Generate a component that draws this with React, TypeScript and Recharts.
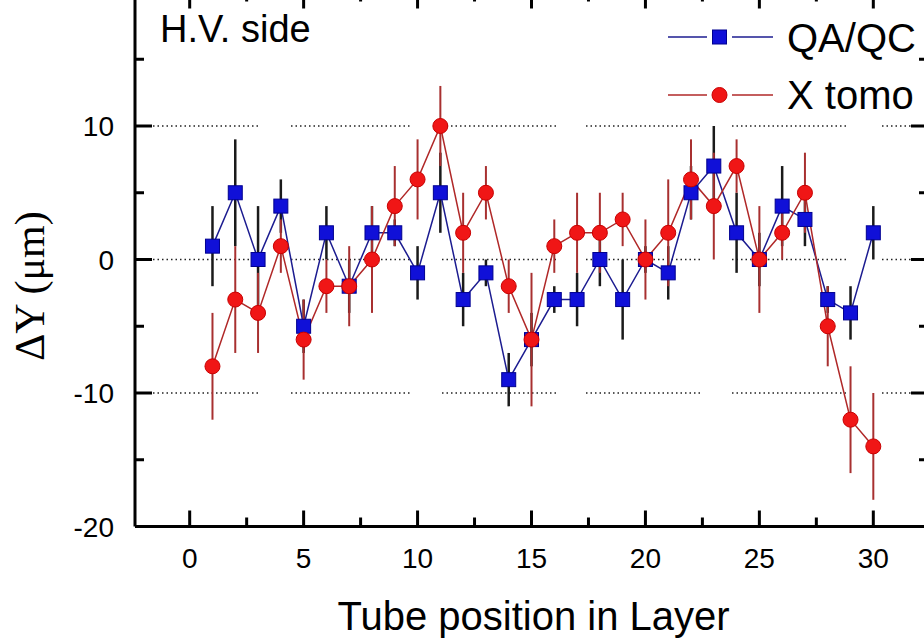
import React from 'react';
import { LineChart, Line, XAxis, YAxis, ErrorBar, ReferenceLine, Legend } from 'recharts';

// ---------- data ----------
const tubePositions = [1, 2, 3, 4, 5, 6, 7, 8, 9, 10, 11, 12, 13, 14, 15, 16, 17, 18, 19, 20, 21, 22, 23, 24, 25, 26, 27, 28, 29, 30];
const qaqcValues = [1, 5, 0, 4, -5, 2, -2, 2, 2, -1, 5, -3, -1, -9, -6, -3, -3, 0, -3, 0, -1, 5, 7, 2, 0, 4, 3, -3, -4, 2];
const qaqcErrors = [3, 4, 4, 2, 2, 2, 2, 2, 1, 2, 3, 2, 1, 2, 2, 1, 2, 2, 3, 1, 2, 2, 3, 3, 2, 3, 2, 1, 2, 2];
const xtomoValues = [-8, -3, -4, 1, -6, -2, -2, 0, 4, 6, 10, 2, 5, -2, -6, 1, 2, 2, 3, 0, 2, 6, 4, 7, 0, 2, 5, -5, -12, -14];
const xtomoErrors = [4, 4, 3, 2, 3, 2, 3, 4, 3, 3, 3, 3, 2, 2, 5, 2, 3, 3, 2, 3, 4, 3, 4, 2, 4, 2, 3, 3, 4, 4];
const seriesNames = ['QA/QC', 'X tomo'];
const xTicks = [0, 2.5, 5, 7.5, 10, 12.5, 15, 17.5, 20, 22.5, 25, 27.5, 30];
const yTicks = [-20, -15, -10, -5, 0, 5, 10, 15, 20];
const yTickLabels = ['-20', '-10', '0', '10'];
const gridValues = [-10, 0, 10];
const annotation = 'H.V. side';
const xTitle = 'Tube position in Layer';
const yTitle = '\u0394Y (\u03bcm)';

const data = tubePositions.map((p, i) => ({
  pos: p,
  qaqc: qaqcValues[i],
  qaqcErr: qaqcErrors[i],
  xtomo: xtomoValues[i],
  xtomoErr: xtomoErrors[i],
}));

// ---------- styles ----------
const SANS = '"Liberation Sans", Arial, Helvetica, sans-serif';
const SERIF = '"Liberation Serif", "Times New Roman", serif';
const BLUE_FILL = '#1010d8';
const BLUE_EDGE = '#000090';
const BLUE_LINE = '#1c1c90';
const RED_FILL = '#f01616';
const RED_EDGE = '#c80000';
const RED_LINE = '#b02828';

// dotted grid with periodic gaps (as in reference)
function buildDash(segs: number[][]) {
  const arr: number[] = [];
  segs.forEach(([s, e], i) => {
    const next = i < segs.length - 1 ? segs[i + 1][0] : e + 200;
    const n = Math.max(1, Math.floor((e - s) / 4.5));
    for (let k = 0; k < n; k++) {
      arr.push(1.5);
      arr.push(k === n - 1 ? next - (s + k * 4.5 + 1.5) : 3);
    }
  });
  return arr.map((v) => v.toFixed(2)).join(' ');
}
const GRID_DASH = buildDash([[135, 262], [291, 413], [442, 560], [586, 703], [732, 853], [882, 960]]);

const BottomTick = (props: any) => {
  const { x, y, payload } = props;
  const v = payload.value;
  const major = v % 5 === 0;
  return (
    <g>
      <line x1={x} y1={y} x2={x} y2={y - (major ? 16 : 9)} stroke="#000" strokeWidth={3} />
      {major && (
        <text x={x} y={y + 41} textAnchor="middle" fontSize={28} fontFamily={SANS} fill="#000">
          {v}
        </text>
      )}
    </g>
  );
};

const TopTick = (props: any) => {
  const { x, y, payload } = props;
  const major = payload.value % 5 === 0;
  return <line x1={x} y1={y} x2={x} y2={y + (major ? 16 : 9)} stroke="#000" strokeWidth={3} />;
};

const LeftTick = (props: any) => {
  const { x, y, payload } = props;
  const v = payload.value;
  const major = v % 10 === 0;
  const label = yTickLabels.includes(String(v));
  return (
    <g>
      <line x1={x} y1={y} x2={x + (major ? 17 : 9)} y2={y} stroke="#000" strokeWidth={3} />
      {label && (
        <text x={x - 21} y={y + 10} textAnchor="end" fontSize={28} fontFamily={SANS} fill="#000">
          {v}
        </text>
      )}
    </g>
  );
};

const RightTick = (props: any) => {
  const { x, y, payload } = props;
  const major = payload.value % 10 === 0;
  return <line x1={x} y1={y} x2={x - (major ? 17 : 9)} y2={y} stroke="#000" strokeWidth={3} />;
};

const SquareDot = (p: any) => {
  if (p.cx == null || p.cy == null) return <g key={`sq-${p.index}`} />;
  return (
    <rect key={`sq-${p.index}`} x={p.cx - 7} y={p.cy - 7} width={14} height={14} fill={BLUE_FILL} stroke={BLUE_EDGE} strokeWidth={1} />
  );
};

const CircleDot = (p: any) => {
  if (p.cx == null || p.cy == null) return <g key={`ci-${p.index}`} />;
  return <circle key={`ci-${p.index}`} cx={p.cx} cy={p.cy} r={7.5} fill={RED_FILL} stroke={RED_EDGE} strokeWidth={1} />;
};

const XTitle = (props: any) => {
  const vb = props.viewBox || { x: 135, y: 566.5, width: 793 };
  return (
    <text x={vb.x + vb.width / 2 + 2} y={vb.y + 103.5} textAnchor="middle" fontSize={40} fontFamily={SANS} fill="#000">
      {xTitle}
    </text>
  );
};

const YTitle = () => (
  <text x={44} y={326} transform="rotate(-90, 44, 326)" textAnchor="middle" fontSize={42} fontFamily={SERIF} fill="#000">
    {yTitle}
  </text>
);

const LegendContent = () => (
  <svg width={305} height={130} style={{ display: 'block' }}>
    <line x1={13} y1={37} x2={52} y2={37} stroke={BLUE_LINE} strokeWidth={1.5} />
    <line x1={77} y1={37} x2={118} y2={37} stroke={BLUE_LINE} strokeWidth={1.5} />
    <rect x={57.5} y={30} width={14} height={14} fill={BLUE_FILL} stroke={BLUE_EDGE} strokeWidth={1} />
    <text x={132} y={52} fontSize={40} fontFamily={SANS} fill="#000">{seriesNames[0]}</text>
    <line x1={13} y1={95} x2={52} y2={95} stroke={RED_LINE} strokeWidth={1.5} />
    <line x1={77} y1={95} x2={118} y2={95} stroke={RED_LINE} strokeWidth={1.5} />
    <circle cx={64.5} cy={95} r={7.5} fill={RED_FILL} stroke={RED_EDGE} strokeWidth={1} />
    <text x={132} y={109} fontSize={40} fontFamily={SANS} fill="#000">{seriesNames[1]}</text>
  </svg>
);

export default function App() {
  return (
    <div style={{ position: 'absolute', left: 0, top: 0, width: 924, height: 642, overflow: 'hidden', background: '#fff' }}>
      <div style={{ position: 'absolute', left: 0, top: -40 }}>
        <LineChart
          width={960}
          height={700}
          data={data}
          margin={{ top: 2.5, right: 2, bottom: 73.5, left: 55 }}
        >
          <XAxis
            dataKey="pos"
            type="number"
            domain={[-2.4, 32.4]}
            ticks={xTicks}
            interval={0}
            allowDataOverflow
            height={60}
            tickSize={0}
            tickMargin={0}
            tickLine={false}
            axisLine={{ stroke: '#000', strokeWidth: 3 }}
            tick={<BottomTick />}
            label={<XTitle />}
          />
          <XAxis
            xAxisId="top"
            orientation="top"
            dataKey="pos"
            type="number"
            domain={[-2.4, 32.4]}
            ticks={xTicks}
            interval={0}
            allowDataOverflow
            height={30}
            tickSize={0}
            tickMargin={0}
            tickLine={false}
            axisLine={{ stroke: '#000', strokeWidth: 3 }}
            tick={<TopTick />}
          />
          <YAxis
            type="number"
            domain={[-20, 20]}
            ticks={yTicks}
            interval={0}
            allowDataOverflow
            width={80}
            tickSize={0}
            tickMargin={0}
            tickLine={false}
            axisLine={{ stroke: '#000', strokeWidth: 3 }}
            tick={<LeftTick />}
            label={<YTitle />}
          />
          <YAxis
            yAxisId="right"
            orientation="right"
            type="number"
            domain={[-20, 20]}
            ticks={yTicks}
            interval={0}
            allowDataOverflow
            width={30}
            tickSize={0}
            tickMargin={0}
            tickLine={false}
            axisLine={{ stroke: '#000', strokeWidth: 3 }}
            tick={<RightTick />}
          />
          {gridValues.map((g) => (
            <ReferenceLine key={`grid-${g}`} y={g} stroke="#222" strokeWidth={1.5} strokeDasharray={GRID_DASH} />
          ))}
          <Line
            dataKey="qaqc"
            name={seriesNames[0]}
            type="linear"
            stroke={BLUE_LINE}
            strokeWidth={1.5}
            dot={SquareDot}
            activeDot={false}
            isAnimationActive={false}
          >
            <ErrorBar dataKey="qaqcErr" direction="y" width={0} stroke="#1a1a1a" strokeWidth={2.5} isAnimationActive={false} />
          </Line>
          <Line
            dataKey="xtomo"
            name={seriesNames[1]}
            type="linear"
            stroke={RED_LINE}
            strokeWidth={1.5}
            dot={CircleDot}
            activeDot={false}
            isAnimationActive={false}
          >
            <ErrorBar dataKey="xtomoErr" direction="y" width={0} stroke="#a83030" strokeWidth={2} isAnimationActive={false} />
          </Line>
          <Legend
            layout="horizontal"
            verticalAlign="middle"
            align="center"
            content={<LegendContent />}
            wrapperStyle={{ position: 'absolute', left: 655, top: 40, width: 305, height: 130 }}
          />
        </LineChart>
      </div>
      <svg width={924} height={642} style={{ position: 'absolute', left: 0, top: 0, pointerEvents: 'none' }}>
        <text x={160} y={42} fontSize={38} fontFamily={SANS} fill="#000">{annotation}</text>
      </svg>
    </div>
  );
}
